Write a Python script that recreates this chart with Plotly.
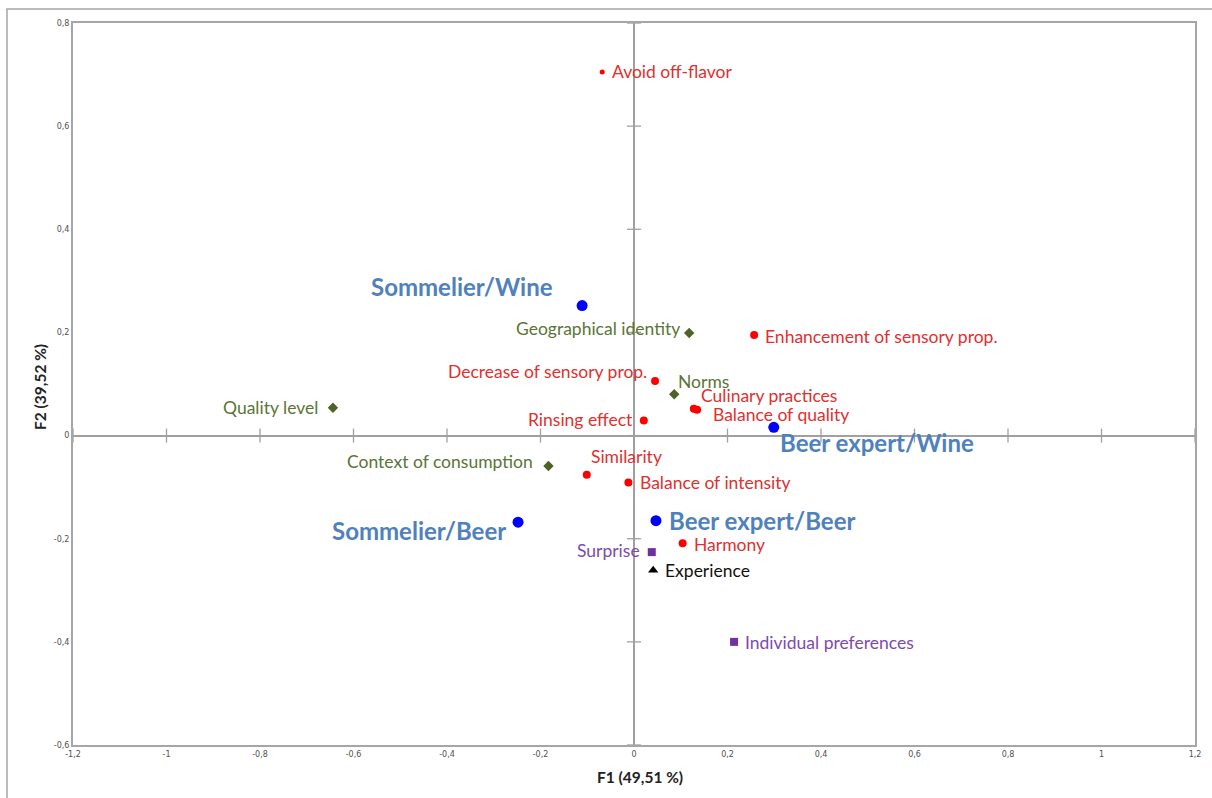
import plotly.graph_objects as go

# ---- data ----
labels = ["Avoid off-flavor", "Sommelier/Wine", "Geographical identity", "Enhancement of sensory prop.",
          "Decrease of sensory prop.", "Norms", "Culinary practices", "Balance of quality",
          "Rinsing effect", "Beer expert/Wine", "Quality level", "Context of consumption",
          "Similarity", "Balance of intensity", "Sommelier/Beer", "Beer expert/Beer",
          "Harmony", "Surprise", "Experience", "Individual preferences"]
f1 = [-0.068, -0.111, 0.118, 0.257, 0.045, 0.086, 0.128, 0.135, 0.021, 0.299,
      -0.644, -0.183, -0.101, -0.012, -0.248, 0.047, 0.104, 0.038, 0.041, 0.214]
f2 = [0.705, 0.252, 0.199, 0.195, 0.106, 0.080, 0.052, 0.050, 0.029, 0.016,
      0.054, -0.059, -0.076, -0.091, -0.168, -0.165, -0.209, -0.226, -0.261, -0.400]
group = ["red", "blue", "green", "red", "red", "green", "red", "red", "red", "blue",
         "green", "green", "red", "red", "blue", "blue", "red", "purple", "black", "purple"]

x_ticks = [-1.2, -1.0, -0.8, -0.6, -0.4, -0.2, 0.0, 0.2, 0.4, 0.6, 0.8, 1.0, 1.2]
x_ticktext = ["-1,2", "-1", "-0,8", "-0,6", "-0,4", "-0,2", "0", "0,2", "0,4", "0,6", "0,8", "1", "1,2"]
y_ticks = [-0.6, -0.4, -0.2, 0.0, 0.2, 0.4, 0.6, 0.8]
y_ticktext = ["-0,6", "-0,4", "-0,2", "0", "0,2", "0,4", "0,6", "0,8"]

x_title = "F1 (49,51 %)"
y_title = "F2 (39,52 %)"

# ---- styles ----
FONT = "Lato"
styles = {
    "red": dict(marker=dict(color="#FF0000", size=8, symbol="circle"), text="#E03030", fs=17.5, bold=False),
    "blue": dict(marker=dict(color="#0000FF", size=11, symbol="circle"), text="#4F81BD", fs=24, bold=True),
    "green": dict(marker=dict(color="#4F6228", size=8, symbol="diamond"), text="#5A7535", fs=17.5, bold=False),
    "purple": dict(marker=dict(color="#7030A0", size=8, symbol="square"), text="#7D4AAE", fs=17.5, bold=False),
    "black": dict(marker=dict(color="#000000", size=9, symbol="triangle-up"), text="#111111", fs=17.5, bold=False),
}
# label placement: (xanchor, xshift, yshift)
placement = {
    "Avoid off-flavor": ("left", 8, 0),
    "Sommelier/Wine": ("right", -27, 19),
    "Geographical identity": ("right", -7, 4),
    "Enhancement of sensory prop.": ("left", 9, -1),
    "Decrease of sensory prop.": ("right", -6, 9),
    "Norms": ("left", 2, 13),
    "Culinary practices": ("left", 5, 13),
    "Balance of quality": ("left", 14, -5),
    "Rinsing effect": ("right", -9, 1),
    "Beer expert/Wine": ("left", 4, -15),
    "Quality level": ("right", -13, 0),
    "Context of consumption": ("right", -13, 5),
    "Similarity": ("left", 2, 18),
    "Balance of intensity": ("left", 10, 0),
    "Sommelier/Beer": ("right", -10, -8),
    "Beer expert/Beer": ("left", 11, 0),
    "Harmony": ("left", 9, -1),
    "Surprise": ("right", -10, 2),
    "Experience": ("left", 10, 0),
    "Individual preferences": ("left", 9, -1),
}
sizes_override = {"Avoid off-flavor": 5}

fig = go.Figure()

# tick marks on the zero axes
fig.add_trace(go.Scatter(x=x_ticks, y=[0] * len(x_ticks), mode="markers", hoverinfo="skip",
                         marker=dict(symbol="line-ns-open", size=10, color="#A0A0A0", line=dict(width=1.3, color="#A0A0A0")),
                         showlegend=False))
fig.add_trace(go.Scatter(x=[0] * len(y_ticks), y=y_ticks, mode="markers", hoverinfo="skip",
                         marker=dict(symbol="line-ew-open", size=10, color="#A0A0A0", line=dict(width=1.3, color="#A0A0A0")),
                         showlegend=False))

for g in ["green", "red", "purple", "black", "blue"]:
    idx = [i for i, gg in enumerate(group) if gg == g]
    m = dict(styles[g]["marker"])
    m["size"] = [sizes_override.get(labels[i], m["size"]) for i in idx]
    m["opacity"] = 1
    m["line"] = dict(width=0)
    fig.add_trace(go.Scatter(x=[f1[i] for i in idx], y=[f2[i] for i in idx], mode="markers",
                             marker=m, text=[labels[i] for i in idx], hoverinfo="text", showlegend=False))

for i, lab in enumerate(labels):
    st = styles[group[i]]
    xa, xs, ys = placement[lab]
    fig.add_annotation(x=f1[i], y=f2[i], xref="x", yref="y", text=f"<b>{lab}</b>" if st["bold"] else lab,
                       showarrow=False, xanchor=xa, yanchor="middle", xshift=xs, yshift=ys,
                       font=dict(family=FONT, size=st["fs"], color=st["text"]))

fig.add_annotation(x=0.5, y=0, xref="paper", yref="paper", yshift=-32, yanchor="middle",
                   text=f"<b>{x_title}</b>", showarrow=False, xshift=6,
                   font=dict(family=FONT, size=15.5, color="#222222"))
fig.add_annotation(x=0, y=0.5, xref="paper", yref="paper", xshift=-33, yshift=-3, textangle=-90,
                   text=f"<b>{y_title}</b>", showarrow=False, xanchor="center",
                   font=dict(family=FONT, size=15.5, color="#222222"))

# outer chart frame
fig.add_shape(type="rect", xref="paper", yref="paper", x0=-66 / 1122, x1=1.2, y0=-0.2, y1=1 + 14 / 722,
              line=dict(color="#A6A6A6", width=1.5), layer="below")

axis_common = dict(showgrid=False, zeroline=True, zerolinecolor="#A0A0A0", zerolinewidth=1.5,
                   showline=True, linecolor="#A6A6A6", linewidth=2, mirror=True, ticks="",
                   tickfont=dict(family="DejaVu Sans", size=8, color="#505050"))
fig.update_xaxes(range=[-1.2, 1.2], tickvals=x_ticks, ticktext=x_ticktext, **axis_common)
fig.update_yaxes(range=[-0.6, 0.8], tickvals=y_ticks, ticktext=y_ticktext, **axis_common)

fig.update_layout(width=1212, height=798, margin=dict(l=73, r=17, t=23, b=53),
                  plot_bgcolor="white", paper_bgcolor="white")

fig.write_html("out.html", config={"displayModeBar": False},
               post_script="document.body.style.margin='0';")
